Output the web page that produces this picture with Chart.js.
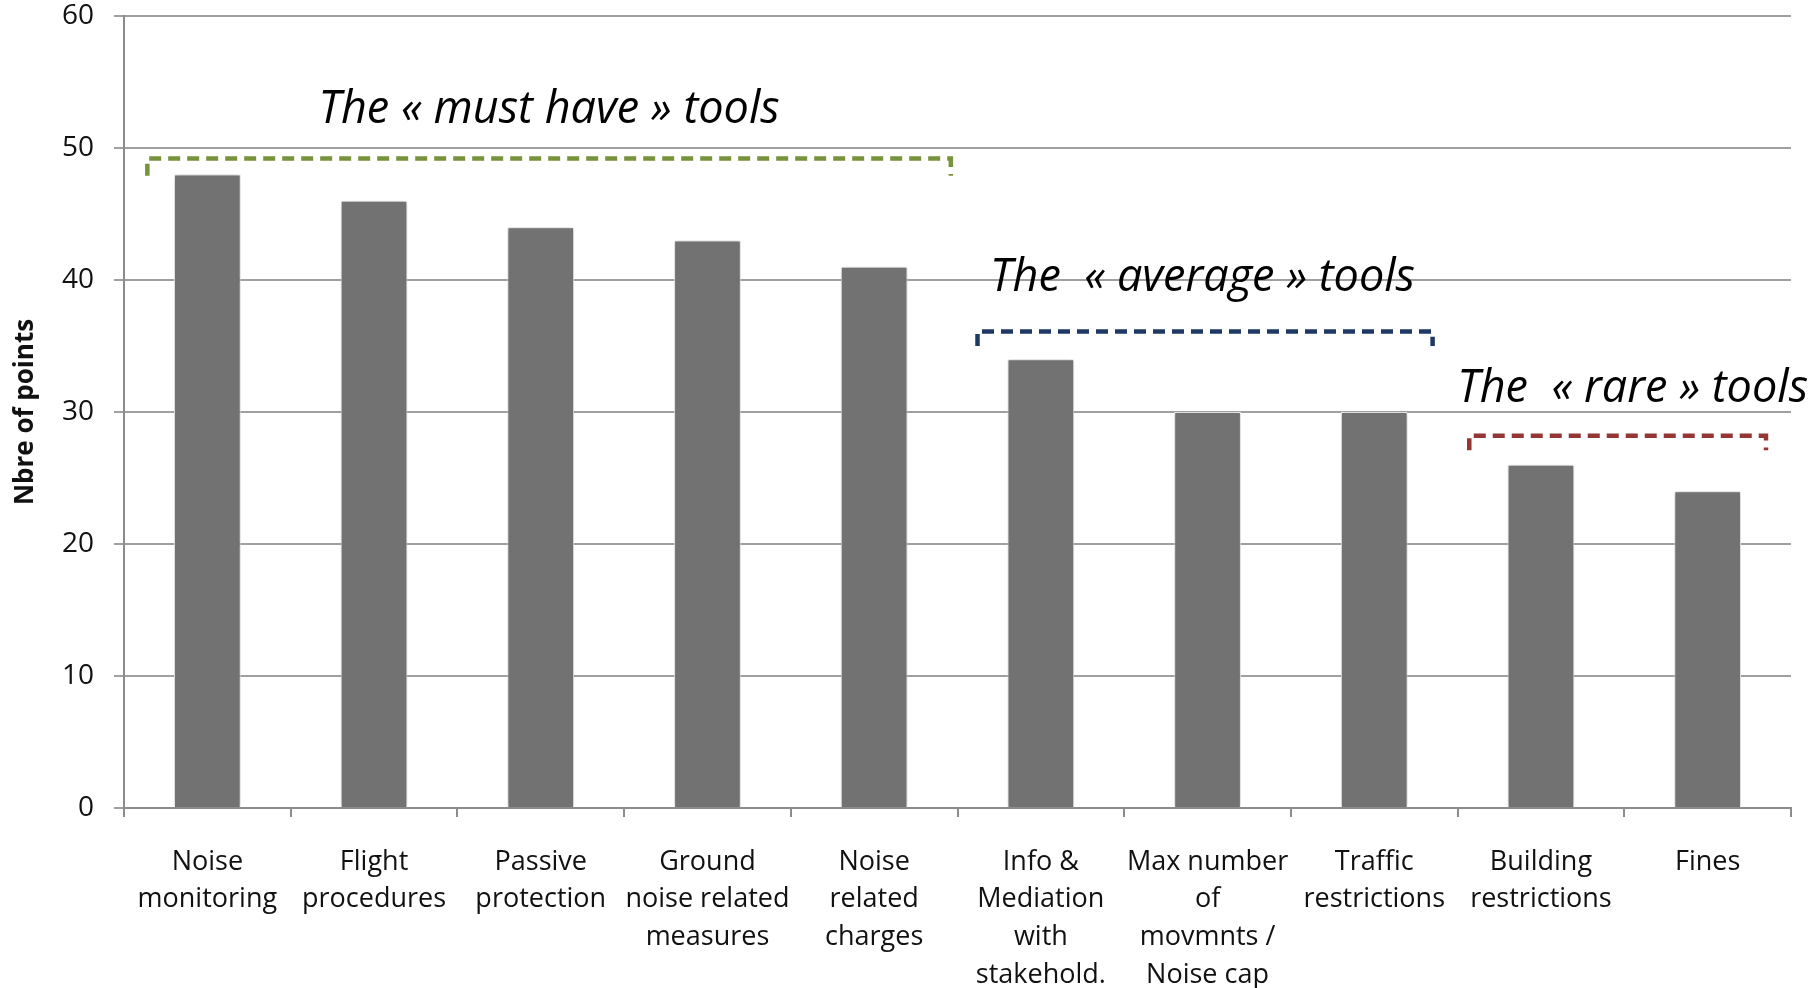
<!DOCTYPE html>
<html>
  <head>
    <title>Noise tools</title>
    <style>
      html, body { margin: 0; padding: 0; background: #fff; }
      #wrap { width: 1815px; height: 988px; }
    </style>
  </head>
  <body>
    <div id="wrap"><canvas id="toolsChart" width="1815" height="988"></canvas></div>

    <script src="https://cdn.jsdelivr.net/npm/chart.js@4/dist/chart.umd.min.js"></script>
    <script>
      // data
      var toolLabels = [
        ["Noise", "monitoring"],
        ["Flight", "procedures"],
        ["Passive", "protection"],
        ["Ground", "noise related", "measures"],
        ["Noise", "related", "charges"],
        ["Info &", "Mediation", "with", "stakehold."],
        ["Max number", "of", "movmnts /", "Noise cap"],
        ["Traffic", "restrictions"],
        ["Building", "restrictions"],
        ["Fines"]
      ];
      var points = [48, 46, 44, 43, 41, 34, 30, 30, 26, 24];
      var yTicks = [0, 10, 20, 30, 40, 50, 60];
      var groupTitles = ["The \u00ab must have \u00bb tools", "The  \u00ab average \u00bb tools", "The  \u00ab rare \u00bb tools"];

      // bracket placement in scale units (x = category index, y = points)
      var brackets = [
        { from: -0.36, to: 4.46, y: 49.2, drop: 1.3, textX: 2.05, textY: 52.9, color: "#77933c" },
        { from: 4.62, to: 7.35, y: 36.1, drop: 1.1, textX: 5.97, textY: 40.1, color: "#1f3864" },
        { from: 7.57, to: 9.35, y: 28.2, drop: 1.1, textX: 8.55, textY: 31.7, color: "#943634" }
      ];

      var FONT = "'Open Sans', 'Noto Sans', sans-serif";

      var barShadow = {
        id: "barShadow",
        beforeDatasetsDraw: function (chart) {
          var ctx = chart.ctx;
          ctx.save();
          ctx.shadowColor = "rgba(0,0,0,0.3)";
          ctx.shadowBlur = 6;
        },
        afterDatasetsDraw: function (chart) {
          chart.ctx.restore();
        }
      };

      var groupNotes = {
        id: "groupNotes",
        afterDraw: function (chart) {
          var ctx = chart.ctx;
          var xs = chart.scales.x, ys = chart.scales.y;
          brackets.forEach(function (b, i) {
            var x1 = xs.getPixelForValue(b.from);
            var x2 = xs.getPixelForValue(b.to);
            var y = ys.getPixelForValue(b.y);
            var yd = ys.getPixelForValue(b.y - b.drop);
            ctx.save();
            ctx.strokeStyle = b.color;
            ctx.lineWidth = 4.5;
            ctx.setLineDash([12, 7]);
            ctx.beginPath();
            ctx.moveTo(x1, yd);
            ctx.lineTo(x1, y);
            ctx.lineTo(x2, y);
            ctx.lineTo(x2, yd);
            ctx.stroke();
            ctx.restore();

            ctx.save();
            ctx.fillStyle = "#000";
            ctx.font = "italic 45px " + FONT;
            ctx.textAlign = "center";
            ctx.textBaseline = "middle";
            ctx.fillText(groupTitles[i], xs.getPixelForValue(b.textX), ys.getPixelForValue(b.textY));
            ctx.restore();
          });
        }
      };

      function initChart() {
        new Chart(document.getElementById("toolsChart").getContext("2d"), {
          type: "bar",
          data: {
            labels: toolLabels,
            datasets: [
              {
                label: "Nbre of points",
                data: points,
                backgroundColor: "#727272",
                borderColor: "#ffffff",
                borderWidth: 1,
                barPercentage: 0.4,
                categoryPercentage: 1
              }
            ]
          },
          options: {
            responsive: false,
            animation: false,
            layout: { padding: { top: 16, right: 24, left: 0, bottom: 0 } },
            plugins: {
              legend: { display: false },
              tooltip: { enabled: false }
            },
            scales: {
              x: {
                offset: true,
                grid: {
                  offset: true,
                  drawOnChartArea: false,
                  drawTicks: true,
                  tickLength: 9,
                  color: "#8c8c8c",
                  lineWidth: 2
                },
                border: { color: "#8c8c8c", width: 2 },
                ticks: {
                  color: "#111",
                  font: { family: FONT, size: 27, lineHeight: 1.4 },
                  padding: 26,
                  maxRotation: 0,
                  autoSkip: false
                },
                afterFit: function (scale) {
                  scale.height = 180;
                  scale.paddingLeft = 0;
                  scale.paddingRight = 0;
                }
              },
              y: {
                min: 0,
                max: 60,
                afterBuildTicks: function (scale) {
                  scale.ticks = yTicks.map(function (v) { return { value: v }; });
                },
                grid: {
                  color: "#a0a0a0",
                  lineWidth: 2,
                  tickLength: 10
                },
                border: { color: "#8c8c8c", width: 2 },
                ticks: {
                  color: "#111",
                  font: { family: FONT, size: 28 },
                  padding: 20
                },
                title: {
                  display: true,
                  text: "Nbre of points",
                  color: "#111",
                  font: { family: FONT, size: 26, weight: "bold" },
                  padding: { top: 10, bottom: 0 }
                },
                afterFit: function (scale) {
                  scale.width = 124;
                  scale.paddingTop = 0;
                  scale.paddingBottom = 0;
                }
              }
            }
          },
          plugins: [barShadow, groupNotes]
        });
      }

      window.onload = initChart;
    </script>
  </body>
</html>
